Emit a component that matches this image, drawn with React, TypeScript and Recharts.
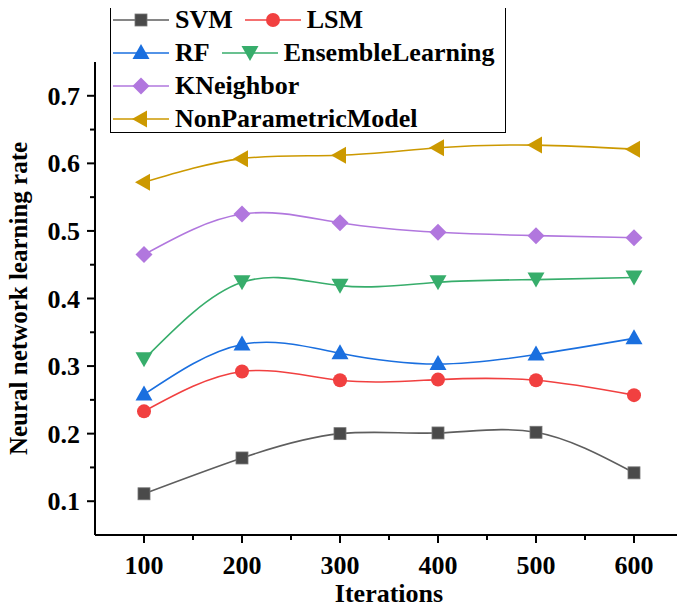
import React from 'react';
import { LineChart, Line, XAxis, YAxis } from 'recharts';

// values
const iterations = [100, 200, 300, 400, 500, 600];
const svm = [0.111, 0.164, 0.2, 0.201, 0.202, 0.142];
const lsm = [0.233, 0.292, 0.279, 0.28, 0.279, 0.257];
const rf = [0.258, 0.332, 0.319, 0.303, 0.317, 0.341];
const ensembleLearning = [0.31, 0.424, 0.419, 0.424, 0.428, 0.431];
const kNeighbor = [0.465, 0.525, 0.512, 0.498, 0.493, 0.49];
const nonParametricModel = [0.572, 0.607, 0.612, 0.623, 0.627, 0.621];

const xTicks = [100, 150, 200, 250, 300, 350, 400, 450, 500, 550, 600, 650];
const xLabels = [100, 200, 300, 400, 500, 600];
const yTicks = [0.1, 0.15, 0.2, 0.25, 0.3, 0.35, 0.4, 0.45, 0.5, 0.55, 0.6, 0.65, 0.7];
const yLabels = ['0.1', '0.2', '0.3', '0.4', '0.5', '0.6', '0.7'];

const FONT = '"Liberation Serif", "Times New Roman", serif';

type Shape = 'square' | 'circle' | 'up' | 'down' | 'diamond' | 'left';

const series: { key: string; name: string; line: string; fill: string; shape: Shape }[] = [
  { key: 'svm', name: 'SVM', line: '#5e5e5e', fill: '#4a4a4a', shape: 'square' },
  { key: 'lsm', name: 'LSM', line: '#f14040', fill: '#f14040', shape: 'circle' },
  { key: 'rf', name: 'RF', line: '#1a6fdf', fill: '#1a6fdf', shape: 'up' },
  { key: 'ensembleLearning', name: 'EnsembleLearning', line: '#37ad6b', fill: '#37ad6b', shape: 'down' },
  { key: 'kNeighbor', name: 'KNeighbor', line: '#b177de', fill: '#b177de', shape: 'diamond' },
  { key: 'nonParametricModel', name: 'NonParametricModel', line: '#cc9900', fill: '#cc9900', shape: 'left' },
];

const legendRows = [
  ['svm', 'lsm'],
  ['rf', 'ensembleLearning'],
  ['kNeighbor'],
  ['nonParametricModel'],
];

const data = iterations.map((it, i) => ({
  iteration: it,
  svm: svm[i],
  lsm: lsm[i],
  rf: rf[i],
  ensembleLearning: ensembleLearning[i],
  kNeighbor: kNeighbor[i],
  nonParametricModel: nonParametricModel[i],
}));

function Marker({ cx, cy, shape, color }: { cx: number; cy: number; shape: Shape; color: string }) {
  const p = (pts: number[][]) => pts.map(([a, b]) => `${cx + a},${cy + b}`).join(' ');
  switch (shape) {
    case 'square':
      return <rect x={cx - 6} y={cy - 6} width={12} height={12} fill={color} stroke="#777" strokeWidth={0.8} />;
    case 'circle':
      return <circle cx={cx} cy={cy} r={7} fill={color} />;
    case 'up':
      return <polygon points={p([[0, -9], [8.5, 6], [-8.5, 6]])} fill={color} />;
    case 'down':
      return <polygon points={p([[0, 8], [8.5, -7], [-8.5, -7]])} fill={color} />;
    case 'diamond':
      return <polygon points={p([[0, -8.5], [8.5, 0], [0, 8.5], [-8.5, 0]])} fill={color} />;
    default:
      return <polygon points={p([[-9, 0], [6, -8.5], [6, 8.5]])} fill={color} />;
  }
}

function XTick(props: any) {
  const { x, y, payload } = props;
  const major = xLabels.includes(payload.value);
  return (
    <g>
      <line x1={x} x2={x} y1={y} y2={y + (major ? 8 : 5)} stroke="#000" strokeWidth={2} />
      {major && (
        <text x={x} y={y + 39} textAnchor="middle" fontFamily={FONT} fontWeight="bold" fontSize={26} fill="#000">
          {payload.value}
        </text>
      )}
    </g>
  );
}

function YTick(props: any) {
  const { x, y, payload } = props;
  const label = Number(payload.value).toFixed(2).replace(/0$/, '');
  const major = yLabels.includes(label) && Math.abs(payload.value * 10 - Math.round(payload.value * 10)) < 1e-6;
  return (
    <g>
      <line x1={x} x2={x - (major ? 8 : 5)} y1={y} y2={y} stroke="#000" strokeWidth={2} />
      {major && (
        <text x={x - 15} y={y + 9} textAnchor="end" fontFamily={FONT} fontWeight="bold" fontSize={26} fill="#000">
          {label}
        </text>
      )}
    </g>
  );
}

function ChartLegend() {
  return (
    <div
      style={{
        position: 'absolute',
        left: 110,
        top: 0,
        width: 396,
        height: 133,
        border: '1.5px solid #000',
        boxSizing: 'border-box',
        paddingLeft: 2,
        paddingTop: 2,
        fontFamily: FONT,
        fontWeight: 'bold',
        fontSize: 26,
        color: '#000',
      }}
    >
      {legendRows.map((row, ri) => (
        <div key={ri} style={{ display: 'flex', alignItems: 'center', height: 33, gap: 12 }}>
          {row.map((k) => {
            const s = series.find((d) => d.key === k)!;
            return (
              <div key={k} style={{ display: 'flex', alignItems: 'center', whiteSpace: 'nowrap' }}>
                <svg width={56} height={22} style={{ marginRight: 6 }}>
                  <line x1={0} x2={56} y1={11} y2={11} stroke={s.line} strokeWidth={1.5} />
                  <Marker cx={28} cy={11} shape={s.shape} color={s.fill} />
                </svg>
                <span style={{ lineHeight: '33px' }}>{s.name}</span>
              </div>
            );
          })}
        </div>
      ))}
    </div>
  );
}

export default function App() {
  return (
    <div style={{ position: 'relative', width: 685, height: 608, margin: '-8px 0 0 -8px', background: '#fff' }}>
      <LineChart width={685} height={608} data={data} margin={{ top: 62, right: 2, bottom: 0, left: 0 }}>
        <XAxis
          dataKey="iteration"
          type="number"
          domain={[50, 650]}
          ticks={xTicks}
          interval={0}
          height={73}
          tickSize={0}
          tickMargin={0}
          tickLine={false}
          axisLine={{ stroke: '#000', strokeWidth: 2 }}
          tick={<XTick />}
          label={{
            content: (p: any) => {
              const vb = p.viewBox;
              return (
                <text x={vb.x + vb.width / 2} y={vb.y + 67} textAnchor="middle" fontFamily={FONT} fontWeight="bold" fontSize={26} fill="#000">
                  Iterations
                </text>
              );
            },
          }}
        />
        <YAxis
          type="number"
          domain={[0.05, 0.75]}
          ticks={yTicks}
          interval={0}
          width={95}
          tickSize={0}
          tickMargin={0}
          tickLine={false}
          axisLine={{ stroke: '#000', strokeWidth: 2 }}
          tick={<YTick />}
          allowDataOverflow
          label={{
            content: (p: any) => {
              const vb = p.viewBox;
              const cy = vb.y + vb.height / 2;
              return (
                <text
                  x={27}
                  y={cy}
                  transform={`rotate(-90 27 ${cy})`}
                  textAnchor="middle"
                  fontFamily={FONT}
                  fontWeight="bold"
                  fontSize={25}
                  fill="#000"
                >
                  Neural network learning rate
                </text>
              );
            },
          }}
        />
        {series.map((s) => (
          <Line
            key={s.key}
            type="natural"
            dataKey={s.key}
            name={s.name}
            stroke={s.line}
            strokeWidth={1.6}
            isAnimationActive={false}
            dot={(dp: any) => <Marker key={`${s.key}-${dp.index}`} cx={dp.cx} cy={dp.cy} shape={s.shape} color={s.fill} />}
            activeDot={false}
          />
        ))}
      </LineChart>
      <ChartLegend />
    </div>
  );
}
